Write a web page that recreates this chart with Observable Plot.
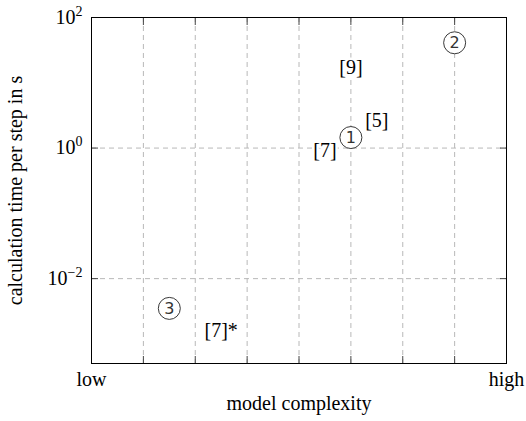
<!DOCTYPE html>
<html>
<head>
<meta charset="utf-8">
<script src="https://cdn.jsdelivr.net/npm/d3@7"></script>
<script src="https://cdn.jsdelivr.net/npm/@observablehq/plot@0.6"></script>
<style>
  html, body { margin: 0; padding: 0; background: white; }
</style>
</head>
<body>
<div id="chart"></div>
<script>
// Reference labels (text nodes)
const refText = ["[9]", "[5]", "[7]", "[7]*"];
const refX = [5, 5.5, 4.5, 2.5];
const refY = [17, 2.6, 0.91, 0.0016];

// Circled model numbers
const modelNum = ["1", "2", "3"];
const modelX = [5, 7, 1.5];
const modelY = [1.45, 41, 0.0035];

// Axes
const xGridTicks = [1, 2, 3, 4, 5, 6, 7];
const xLabelTicks = [0, 8];
const xLabelText = ["low", "high"];
const yTicks = [0.01, 1, 100];
const yTickExp = ["−2", "0", "2"];

const refs = refText.map((t, i) => ({t, x: refX[i], y: refY[i]}));
const models = modelNum.map((n, i) => ({n, x: modelX[i], y: modelY[i]}));

const serif = "Liberation Serif";
const gridStyle = {stroke: "#b8b8b8", strokeOpacity: 1, strokeWidth: 1, strokeDasharray: "5,4"};

const chart = Plot.plot({
  width: 526,
  height: 421,
  marginLeft: 91,
  marginRight: 20,
  marginTop: 17,
  marginBottom: 58,
  style: {fontSize: "20px", background: "white", color: "black"},
  x: {domain: [0, 8]},
  y: {type: "log", domain: [Math.pow(10, -3.3), 100]},
  marks: [
    Plot.gridX(xGridTicks, gridStyle),
    Plot.gridY([0.01, 1], gridStyle),
    // inward ticks
    Plot.axisX(xGridTicks, {anchor: "bottom", tickSize: -7, tickFormat: () => "", stroke: "#444", label: null}),
    Plot.axisX(xGridTicks, {anchor: "top", tickSize: -7, tickFormat: () => "", stroke: "#444", label: null}),
    Plot.axisY([0.01, 1], {anchor: "left", tickSize: -7, tickFormat: () => "", stroke: "#444", label: null}),
    Plot.axisY([0.01, 1], {anchor: "right", tickSize: -7, tickFormat: () => "", stroke: "#444", label: null}),
    // labels
    Plot.axisX(xLabelTicks, {anchor: "bottom", tickSize: 0, tickPadding: 8, tickFormat: d => xLabelText[xLabelTicks.indexOf(d)], label: null, fontSize: 20}),
    Plot.axisY(yTicks, {anchor: "left", tickSize: 0, tickPadding: 9, tickFormat: d => "10^" + yTickExp[yTicks.indexOf(d)], label: null, fontSize: 20}),
    Plot.frame({stroke: "black", strokeWidth: 1}),
    Plot.text(["model complexity"], {frameAnchor: "bottom", dy: 46, fontSize: 20}),
    Plot.text(["calculation time per step in s"], {frameAnchor: "left", textAnchor: "middle", rotate: -90, dx: -76, fontSize: 20}),
    // data
    Plot.text(refs, {x: "x", y: "y", text: "t", fontSize: 20, fill: "black", stroke: "white", strokeWidth: 5, paintOrder: "stroke"}),
    Plot.dot(models, {x: "x", y: "y", r: 11, stroke: "#222", strokeWidth: 0.9, fill: "white"}),
    Plot.text(models, {x: "x", y: "y", text: "n", fontSize: 16, fill: "#333", className: "circnum"})
  ]
});

// fonts and superscripts
d3.select(chart).selectAll("text").each(function() {
  const el = d3.select(this);
  const isNum = this.closest(".circnum") != null;
  el.style("font-family", isNum ? "DejaVu Sans" : serif, "important");
  const s = this.textContent;
  if (/^10\^/.test(s)) {
    const exp = s.slice(3);
    el.text("10");
    el.append("tspan").attr("dy", "-8").attr("font-size", "14").text(exp);
  }
});

document.getElementById("chart").appendChild(chart);
</script>
</body>
</html>
